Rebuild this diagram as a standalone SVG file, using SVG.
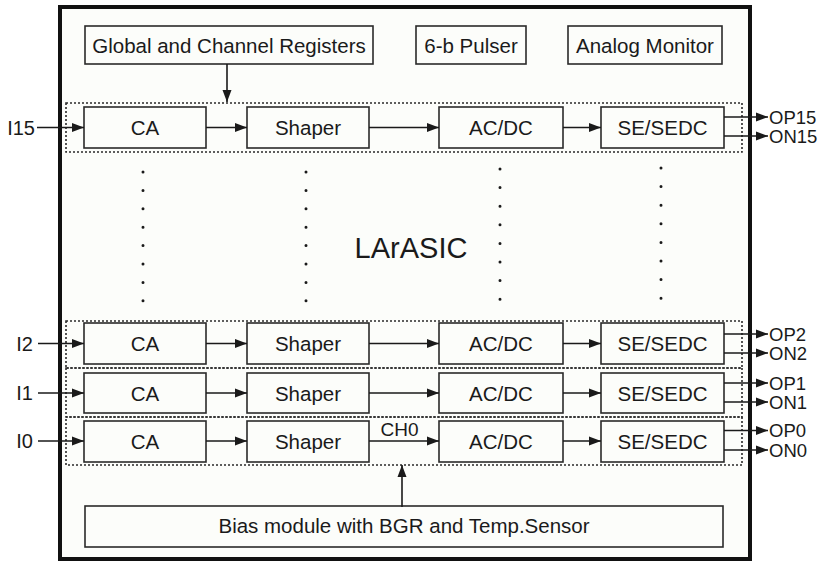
<svg xmlns="http://www.w3.org/2000/svg" width="825" height="561" viewBox="0 0 825 561">
<defs>
<marker id="ah" markerUnits="userSpaceOnUse" markerWidth="12" markerHeight="10" refX="12" refY="5" orient="auto">
<path d="M0,0.5 L12,5 L0,9.5 Z" fill="#1a1a1a"/>
</marker>
</defs>
<style>
.box{fill:none;stroke:#2a2a2a;stroke-width:1.6}
.grp{fill:none;stroke:#2a2a2a;stroke-width:1.6;stroke-dasharray:2 2}
.t{font-family:"Liberation Sans",Arial,sans-serif;font-size:20.5px;fill:#1a1a1a;text-anchor:middle}
.io{font-family:"Liberation Sans",Arial,sans-serif;font-size:20px;fill:#1a1a1a}
.out{font-family:"Liberation Sans",Arial,sans-serif;font-size:18.5px;fill:#1a1a1a}
.ln{stroke:#1a1a1a;stroke-width:1.6;fill:none}
.dots{stroke:#1a1a1a;stroke-width:3;stroke-linecap:round;fill:none}
</style>
<rect width="825" height="561" fill="#ffffff"/>
<g id="chip">
<rect x="60" y="7" width="690" height="552" fill="#fcfdfa" stroke="#111" stroke-width="4"/>
<text class="t" x="411" y="258" style="font-size:29px">LArASIC</text>
</g>
<g id="registers"><rect class="box" x="85" y="26" width="288" height="38"/><text class="t" x="229" y="53">Global and Channel Registers</text></g>
<g id="pulser"><rect class="box" x="416" y="26" width="110" height="38"/><text class="t" x="471" y="53">6-b Pulser</text></g>
<g id="monitor"><rect class="box" x="568" y="26" width="154" height="38"/><text class="t" x="645" y="53">Analog Monitor</text></g>
<g id="bias"><rect class="box" x="85" y="506" width="638" height="41"/><text class="t" x="404" y="533">Bias module with BGR and Temp.Sensor</text></g>

<g id="ch15">
<rect class="grp" x="66" y="103" width="676" height="49"/>
<rect class="box" x="84" y="107" width="122" height="41"/><text class="t" x="145" y="135">CA</text>
<rect class="box" x="247" y="107" width="122" height="41"/><text class="t" x="308" y="135">Shaper</text>
<rect class="box" x="439" y="107" width="124" height="41"/><text class="t" x="501" y="135">AC/DC</text>
<rect class="box" x="601" y="107" width="123" height="41"/><text class="t" x="662.5" y="135">SE/SEDC</text>
</g>
<g id="ch2">
<rect class="grp" x="66" y="321" width="676" height="47"/>
<rect class="box" x="84" y="323" width="122" height="41"/><text class="t" x="145" y="351">CA</text>
<rect class="box" x="247" y="323" width="122" height="41"/><text class="t" x="308" y="351">Shaper</text>
<rect class="box" x="439" y="323" width="124" height="41"/><text class="t" x="501" y="351">AC/DC</text>
<rect class="box" x="601" y="323" width="123" height="41"/><text class="t" x="662.5" y="351">SE/SEDC</text>
</g>
<g id="ch1">
<rect class="grp" x="66" y="368" width="676" height="49"/>
<rect class="box" x="84" y="373" width="122" height="40"/><text class="t" x="145" y="400.5">CA</text>
<rect class="box" x="247" y="373" width="122" height="40"/><text class="t" x="308" y="400.5">Shaper</text>
<rect class="box" x="439" y="373" width="124" height="40"/><text class="t" x="501" y="400.5">AC/DC</text>
<rect class="box" x="601" y="373" width="123" height="40"/><text class="t" x="662.5" y="400.5">SE/SEDC</text>
</g>
<g id="ch0">
<rect class="grp" x="66" y="417" width="676" height="48"/>
<rect class="box" x="84" y="421" width="122" height="41"/><text class="t" x="145" y="449">CA</text>
<rect class="box" x="247" y="421" width="122" height="41"/><text class="t" x="308" y="449">Shaper</text>
<rect class="box" x="439" y="421" width="124" height="41"/><text class="t" x="501" y="449">AC/DC</text>
<rect class="box" x="601" y="421" width="123" height="41"/><text class="t" x="662.5" y="449">SE/SEDC</text>
</g>

<g id="ellipsis">
<path class="dots" d="M143,172 V301 M306,172 V301" stroke-dasharray="0 18.4"/>
<path class="dots" d="M500,169 V300 M661,168 V299" stroke-dasharray="0 18.6"/>
</g>

<g id="connectors">
<path class="ln" marker-end="url(#ah)" d="M227,64 V102"/>
<path class="ln" marker-end="url(#ah)" d="M402,507 V465"/>
<path class="ln" marker-end="url(#ah)" d="M37,127.5 H84"/>
<path class="ln" marker-end="url(#ah)" d="M206,127.5 H247"/>
<path class="ln" marker-end="url(#ah)" d="M369,127.5 H439"/>
<path class="ln" marker-end="url(#ah)" d="M563,127.5 H601"/>
<path class="ln" marker-end="url(#ah)" d="M724,117 H768"/>
<path class="ln" marker-end="url(#ah)" d="M724,136 H768"/>
<path class="ln" marker-end="url(#ah)" d="M38,343.5 H84"/>
<path class="ln" marker-end="url(#ah)" d="M206,343.5 H247"/>
<path class="ln" marker-end="url(#ah)" d="M369,343.5 H439"/>
<path class="ln" marker-end="url(#ah)" d="M563,343.5 H601"/>
<path class="ln" marker-end="url(#ah)" d="M724,334 H768"/>
<path class="ln" marker-end="url(#ah)" d="M724,353 H768"/>
<path class="ln" marker-end="url(#ah)" d="M38,393 H84"/>
<path class="ln" marker-end="url(#ah)" d="M206,393 H247"/>
<path class="ln" marker-end="url(#ah)" d="M369,393 H439"/>
<path class="ln" marker-end="url(#ah)" d="M563,393 H601"/>
<path class="ln" marker-end="url(#ah)" d="M724,383 H768"/>
<path class="ln" marker-end="url(#ah)" d="M724,402 H768"/>
<path class="ln" marker-end="url(#ah)" d="M38,441 H84"/>
<path class="ln" marker-end="url(#ah)" d="M206,441 H247"/>
<path class="ln" marker-end="url(#ah)" d="M369,441 H439"/>
<path class="ln" marker-end="url(#ah)" d="M563,441 H601"/>
<path class="ln" marker-end="url(#ah)" d="M724,430.5 H768"/>
<path class="ln" marker-end="url(#ah)" d="M724,450 H768"/>
</g>

<g id="labels">
<text class="io" x="35" y="134.5" text-anchor="end">I15</text>
<text class="io" x="33" y="350.5" text-anchor="end">I2</text>
<text class="io" x="33" y="400" text-anchor="end">I1</text>
<text class="io" x="33" y="448" text-anchor="end">I0</text>
<text class="out" x="769" y="123.5">OP15</text>
<text class="out" x="769" y="142.5">ON15</text>
<text class="out" x="769" y="340.5">OP2</text>
<text class="out" x="769" y="359.5">ON2</text>
<text class="out" x="769" y="389.5">OP1</text>
<text class="out" x="769" y="408.5">ON1</text>
<text class="out" x="769" y="437">OP0</text>
<text class="out" x="769" y="456.5">ON0</text>
<text class="io" x="399.5" y="436" text-anchor="middle" style="font-size:19px">CH0</text>
</g>
</svg>
